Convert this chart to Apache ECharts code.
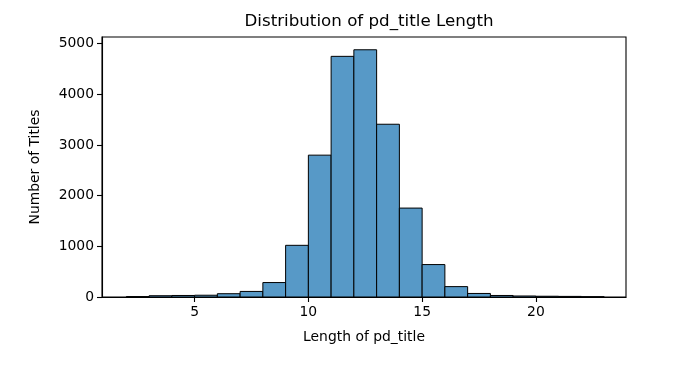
<!DOCTYPE html>
<html>
<head>
<meta charset="utf-8">
<script src="https://cdn.jsdelivr.net/npm/echarts@6/dist/echarts.min.js"></script>
<style>html,body{margin:0;padding:0;background:#fff}#c{width:690px;height:366px}</style>
</head>
<body>
<div id="c"></div>
<script>
const binStarts = [2,3,4,5,6,7,8,9,10,11,12,13,14,15,16,17,18,19,20,21,22];
const binWidth = 1;
const counts = [8,25,30,35,65,110,285,1020,2800,4750,4880,3410,1755,640,205,70,30,20,15,12,5];
const xTicks = [5,10,15,20];
const yTicks = [0,1000,2000,3000,4000,5000];
const titleText = 'Distribution of pd_title Length';
const xName = 'Length of pd_title';
const yName = 'Number of Titles';

const data = binStarts.map((s,i)=>[s, s+binWidth, counts[i]]);
const font = 'DejaVu Sans';
const chart = echarts.init(document.getElementById('c'), null, {renderer:'canvas'});
chart.setOption({
  animation:false,
  title:{text:titleText, left:364, textAlign:'center', top:8,
    textStyle:{fontFamily:font, fontSize:16.7, fontWeight:'normal', color:'#000'}},
  grid:{left:102, right:64, top:37, bottom:69, show:true, borderColor:'#000', borderWidth:1.1, backgroundColor:'transparent'},
  xAxis:{type:'value', min:0.93, max:23.96,
    name:xName, nameLocation:'middle', nameGap:33,
    nameTextStyle:{fontFamily:font, fontSize:13.9, color:'#000'},
    axisLine:{show:true, onZero:false, lineStyle:{color:'#000', width:1.1}},
    axisTick:{show:true, length:5, lineStyle:{color:'#000', width:1.1}, customValues:xTicks},
    axisLabel:{fontFamily:font, fontSize:13.9, color:'#000', margin:8, customValues:xTicks,
      formatter:v=>String(v)},
    splitLine:{show:false}},
  yAxis:{type:'value', min:0, max:5132,
    name:yName, nameLocation:'middle', nameGap:60,
    nameTextStyle:{fontFamily:font, fontSize:13.9, color:'#000'},
    axisLine:{show:true, lineStyle:{color:'#000', width:1.1}},
    axisTick:{show:true, length:5, lineStyle:{color:'#000', width:1.1}, customValues:yTicks},
    axisLabel:{fontFamily:font, fontSize:13.9, color:'#000', margin:8, customValues:yTicks,
      formatter:v=>String(v)},
    splitLine:{show:false}},
  series:[{
    type:'custom',
    data:data,
    encode:{x:[0,1], y:2},
    renderItem:function(params, api){
      const p0 = api.coord([api.value(0), 0]);
      const p1 = api.coord([api.value(1), api.value(2)]);
      return {type:'rect', shape:{x:p0[0], y:p1[1], width:p1[0]-p0[0], height:p0[1]-p1[1]},
        style:{fill:'#5799c7', stroke:'#000', lineWidth:1}};
    }
  }]
});
</script>
</body>
</html>
